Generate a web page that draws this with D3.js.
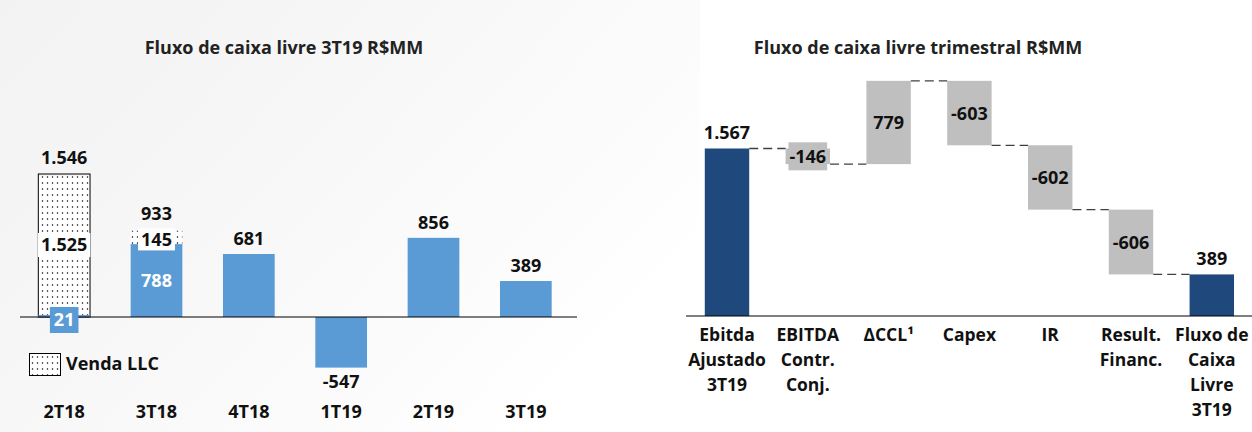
<!DOCTYPE html>
<html>
<head>
<meta charset="utf-8">
<style>
  body { margin: 0; background: #fff; }
  text { font-family: "Open Sans", "Noto Sans", sans-serif; font-weight: bold; }
</style>
</head>
<body>
<svg width="1252" height="432"></svg>
<script src="https://cdn.jsdelivr.net/npm/d3@7"></script>
<script>
// left chart data
var leftCats = ["2T18", "3T18", "4T18", "1T19", "2T19", "3T19"];
var leftValues = [21, 788, 681, -547, 856, 389];
var llcValues = [1525, 145, 0, 0, 0, 0];

// right chart data (waterfall)
var wfCats = [["Ebitda", "Ajustado", "3T19"], ["EBITDA", "Contr.", "Conj."], ["\u0394CCL\u00b9"], ["Capex"], ["IR"], ["Result.", "Financ."], ["Fluxo de", "Caixa", "Livre", "3T19"]];
var wfValues = [1567, -146, 779, -603, -602, -606, 389];
var wfIsTotal = [true, false, false, false, false, false, true];

var br = d3.formatLocale({decimal: ",", thousands: ".", grouping: [3], currency: ["R$", ""], minus: "-"});
var fmt = br.format(",d");

var svg = d3.select("svg");
var defs = svg.append("defs");

var grad = defs.append("linearGradient").attr("id", "bg")
    .attr("x1", "0").attr("y1", "0").attr("x2", "1").attr("y2", "0.6");
grad.append("stop").attr("offset", "0%").attr("stop-color", "#f2f2f2");
grad.append("stop").attr("offset", "60%").attr("stop-color", "#f9f9f9");
grad.append("stop").attr("offset", "100%").attr("stop-color", "#ffffff");

var pat = defs.append("pattern").attr("id", "dots")
    .attr("patternUnits", "userSpaceOnUse").attr("width", 5).attr("height", 6);
pat.append("rect").attr("width", 5).attr("height", 6).attr("fill", "#fff");
pat.append("circle").attr("cx", 2.5).attr("cy", 3).attr("r", 0.75).attr("fill", "#000");

svg.append("rect").attr("x", 0).attr("y", 0).attr("width", 700).attr("height", 432).attr("fill", "url(#bg)");

// ---------- left chart ----------
var x1 = d3.scaleBand().domain(leftCats).range([18, 572]).paddingInner(0.44).paddingOuter(0.22);
var y1 = d3.scaleLinear().domain([0, 1546]).range([317, 174]);

var left = svg.append("g");

left.append("text").attr("x", 284).attr("y", 54).attr("text-anchor", "middle")
    .attr("font-size", 18).attr("fill", "#222").text("Fluxo de caixa livre 3T19 R$MM");

// Venda LLC stacked portion
left.selectAll(".llc").data(leftCats.filter(function(d, i) { return llcValues[i] > 0; }))
  .enter().append("rect")
    .attr("class", "llc")
    .attr("x", function(d) { return x1(d); })
    .attr("width", x1.bandwidth())
    .attr("y", function(d) { var i = leftCats.indexOf(d); var base = i == 0 ? 0 : leftValues[i]; return y1(base + llcValues[i]); })
    .attr("height", function(d) { var i = leftCats.indexOf(d); return y1(0) - y1(llcValues[i]); })
    .attr("fill", "url(#dots)");

// outline of the 2T18 total
left.append("rect")
    .attr("x", x1("2T18")).attr("width", x1.bandwidth())
    .attr("y", y1(leftValues[0] + llcValues[0])).attr("height", y1(0) - y1(leftValues[0] + llcValues[0]))
    .attr("fill", "none").attr("stroke", "#000").attr("stroke-width", 1);

// blue bars
left.selectAll(".bar").data(leftValues).enter().append("rect")
    .attr("class", "bar")
    .attr("x", function(d, i) { return x1(leftCats[i]); })
    .attr("width", x1.bandwidth())
    .attr("y", function(d) { return y1(Math.max(0, d)); })
    .attr("height", function(d) { return Math.abs(y1(d) - y1(0)); })
    .attr("fill", "#5b9bd5");

left.append("line").attr("x1", 20).attr("x2", 577).attr("y1", y1(0)).attr("y2", y1(0))
    .attr("stroke", "#000").attr("stroke-width", 1.2);

function boxLabel(g, cx, cy, txt, bg, col, padX, padY) {
  var t = g.append("text").attr("x", cx).attr("y", cy).attr("dy", "0.36em")
      .attr("text-anchor", "middle").attr("font-size", 18).attr("fill", col).text(txt);
  if (bg) {
    var b = t.node().getBBox();
    g.insert("rect", function() { return t.node(); })
        .attr("x", b.x - padX).attr("y", cy - 12 - padY).attr("width", b.width + 2 * padX).attr("height", 24 + 2 * padY)
        .attr("fill", bg);
  }
  return t;
}

// labels
leftValues.forEach(function(v, i) {
  var cx = x1(leftCats[i]) + x1.bandwidth() / 2;
  var tot = v + llcValues[i];
  if (i == 0) {
    boxLabel(left, cx, y1(0) + 3, fmt(v), "#5b9bd5", "#fff", 4, 1);
    boxLabel(left, cx, y1(tot) - 16, fmt(tot), null, "#111");
    boxLabel(left, cx, 245, fmt(llcValues[i]), "#fff", "#111", 3, 0);
  } else if (llcValues[i] > 0) {
    boxLabel(left, cx, (y1(v) + y1(0)) / 2, fmt(v), null, "#fff");
    boxLabel(left, cx, (y1(v) + y1(tot)) / 2 + 2, fmt(llcValues[i]), "#fff", "#111", 3, -1);
    boxLabel(left, cx, y1(tot) - 17, fmt(tot), null, "#111");
  } else if (v >= 0) {
    boxLabel(left, cx, y1(v) - 15, fmt(v), null, "#111");
  } else {
    boxLabel(left, cx, y1(v) + 14, fmt(v), null, "#111");
  }
});

// categories
left.selectAll(".cat").data(leftCats).enter().append("text")
    .attr("x", function(d) { return x1(d) + x1.bandwidth() / 2; })
    .attr("y", 418).attr("text-anchor", "middle").attr("font-size", 18).attr("fill", "#111")
    .text(function(d) { return d; });

// legend
left.append("rect").attr("x", 29.5).attr("y", 353.5).attr("width", 31).attr("height", 22)
    .attr("fill", "url(#dots)").attr("stroke", "#000");
left.append("text").attr("x", 66).attr("y", 364).attr("dy", "0.36em").attr("font-size", 18)
    .attr("fill", "#111").text("Venda LLC");

// ---------- right chart ----------
var x2 = d3.scaleBand().domain(d3.range(wfValues.length)).range([686.6, 1252.2]).paddingInner(0.45).paddingOuter(0.225);
var y2 = d3.scaleLinear().domain([0, 1567]).range([316, 148.5]);

var right = svg.append("g");
right.append("text").attr("x", 918).attr("y", 54).attr("text-anchor", "middle")
    .attr("font-size", 18).attr("fill", "#222").text("Fluxo de caixa livre trimestral R$MM");

var run = 0, steps = [];
wfValues.forEach(function(v, i) {
  var s, e;
  if (wfIsTotal[i]) { s = 0; e = v; run = v; }
  else { s = run; e = run + v; run = e; }
  steps.push({s: s, e: e, v: v, i: i});
});

right.selectAll(".wf").data(steps).enter().append("rect")
    .attr("class", "wf")
    .attr("x", function(d) { return x2(d.i); })
    .attr("width", x2.bandwidth())
    .attr("y", function(d) { return y2(Math.max(d.s, d.e)); })
    .attr("height", function(d) { return Math.abs(y2(d.s) - y2(d.e)); })
    .attr("fill", function(d) { return wfIsTotal[d.i] ? "#1f497d" : "#bfbfbf"; });

// connectors
steps.slice(0, -1).forEach(function(d) {
  right.append("line")
      .attr("x1", x2(d.i) + x2.bandwidth()).attr("x2", x2(d.i + 1))
      .attr("y1", y2(d.e)).attr("y2", y2(d.e))
      .attr("stroke", "#404040").attr("stroke-width", 1.3).attr("stroke-dasharray", "9,5");
});

right.append("line").attr("x1", 686).attr("x2", 1252).attr("y1", y2(0)).attr("y2", y2(0))
    .attr("stroke", "#000").attr("stroke-width", 1.2);

steps.forEach(function(d) {
  var cx = x2(d.i) + x2.bandwidth() / 2;
  if (wfIsTotal[d.i]) {
    boxLabel(right, cx, y2(d.e) - 16, fmt(d.v), null, "#111");
  } else {
    boxLabel(right, cx, (y2(d.s) + y2(d.e)) / 2, fmt(d.v), "#bfbfbf", "#111", 1, 2);
  }
});

wfCats.forEach(function(lines, i) {
  var t = right.append("text").attr("text-anchor", "middle").attr("font-size", 17.5).attr("fill", "#111");
  lines.forEach(function(l, k) {
    t.append("tspan").attr("x", x2(i) + x2.bandwidth() / 2).attr("y", 341 + k * 25).text(l);
  });
});
</script>
</body>
</html>
